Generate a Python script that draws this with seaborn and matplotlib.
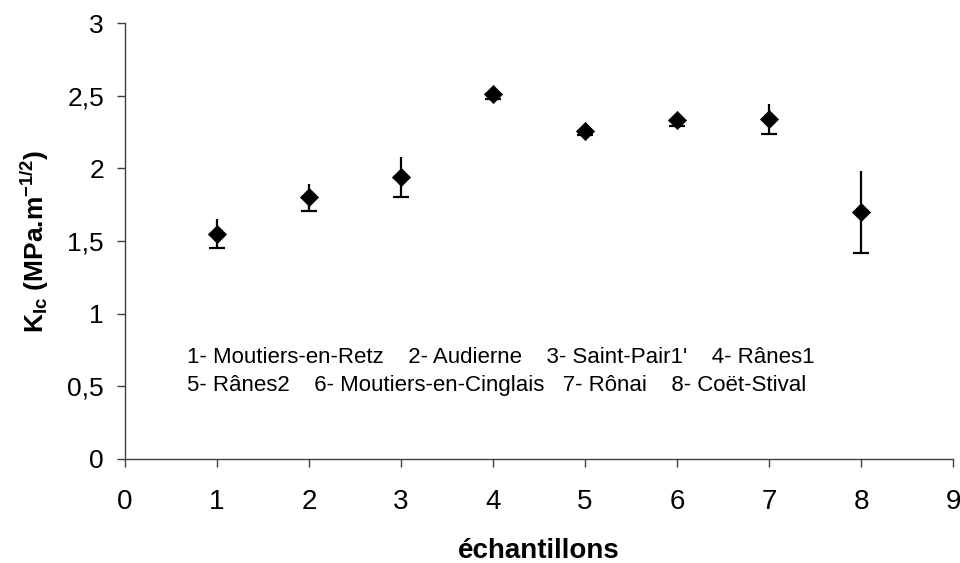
import matplotlib
matplotlib.use("Agg")
import matplotlib.pyplot as plt
import seaborn as sns
import pandas as pd

samples = [1, 2, 3, 4, 5, 6, 7, 8]
kic = [1.55, 1.80, 1.94, 2.51, 2.26, 2.33, 2.34, 1.70]
err = [0.10, 0.095, 0.14, 0.03, 0.03, 0.04, 0.105, 0.285]
x_ticks = [0, 1, 2, 3, 4, 5, 6, 7, 8, 9]
y_ticks = [0, 0.5, 1, 1.5, 2, 2.5, 3]
y_labels = ["0", "0,5", "1", "1,5", "2", "2,5", "3"]
names_line1 = "1- Moutiers-en-Retz    2- Audierne    3- Saint-Pair1'    4- Rânes1"
names_line2 = "5- Rânes2    6- Moutiers-en-Cinglais   7- Rônai    8- Coët-Stival"

sns.set_theme(style="white")
plt.rcParams["font.family"] = ["Liberation Sans", "DejaVu Sans"]
plt.rcParams["mathtext.fontset"] = "custom"
plt.rcParams["mathtext.rm"] = "Liberation Sans"
plt.rcParams["mathtext.bf"] = "Liberation Sans:bold"
plt.rcParams["text.color"] = "black"
plt.rcParams["axes.labelcolor"] = "black"
plt.rcParams["xtick.color"] = "black"
plt.rcParams["ytick.color"] = "black"

df = pd.DataFrame({"s": samples, "k": kic, "e": err})

fig = plt.figure(figsize=(9.6, 5.63), dpi=100)
ax = fig.add_axes([0.130, 0.185, 0.863, 0.774])

# upper part of error bar (no cap)
ax.errorbar(df["s"], df["k"], yerr=[[0] * len(df), df["e"]], fmt="none",
            ecolor="black", elinewidth=1.6, capsize=0, zorder=2)
# lower part with cap
ax.errorbar(df["s"], df["k"], yerr=[df["e"], [0] * len(df)], fmt="none",
            ecolor="black", elinewidth=1.6, capsize=5.5, capthick=1.6, zorder=2)
sns.scatterplot(data=df, x="s", y="k", marker="D", color="black", s=85,
                edgecolor="black", linewidth=0.5, ax=ax, zorder=3)

ax.set_xlim(0, 9)
ax.set_ylim(0, 3)
ax.set_xticks(x_ticks)
ax.set_xticklabels([str(t) for t in x_ticks], fontsize=20)
ax.set_yticks(y_ticks)
ax.set_yticklabels(y_labels, fontsize=19)
ax.tick_params(axis="both", direction="out", length=6, width=1, color="#404040",
               bottom=True, left=True)
ax.tick_params(axis="x", pad=16)
ax.tick_params(axis="y", pad=9)
for side in ["top", "right"]:
    ax.spines[side].set_visible(False)
for side in ["left", "bottom"]:
    ax.spines[side].set_color("#404040")
    ax.spines[side].set_linewidth(1)

ax.set_xlabel("échantillons", fontsize=20, fontweight="bold", labelpad=16)
ax.set_ylabel(r"$\mathbf{K_{Ic}}$ (MPa.m$^{\mathbf{-1/2}}$)", fontsize=19,
              fontweight="bold", labelpad=12)

ax.text(0.68, 0.66, names_line1, fontsize=16, ha="left", va="baseline")
ax.text(0.68, 0.47, names_line2, fontsize=16, ha="left", va="baseline")

fig.savefig("out.png", dpi=100)
